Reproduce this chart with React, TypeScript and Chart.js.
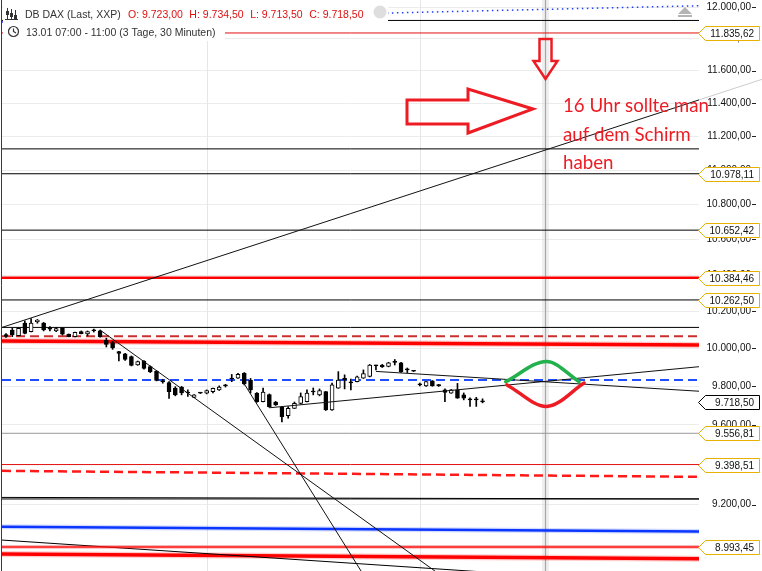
import React, { useEffect, useRef } from 'react';
import { Chart, registerables } from 'chart.js';

Chart.register(...registerables);

// DB DAX (Last, XXP) – 30-minute bars, bar 0 … bar 76 (13.01 11:00)
const opens = [
  10075, 10099, 10068, 10136, 10090, 10144, 10136, 10112, 10094, 10108,
  10076, 10063, 10090, 10078, 10097, 10094, 10043, 10032, 9983, 9971,
  9956, 9912, 9933, 9904, 9878, 9828, 9819, 9790, 9796, 9769,
  9742, 9765, 9764, 9772, 9781, 9804, 9841, 9842, 9868, 9833,
  9764, 9720, 9757, 9718, 9692, 9647, 9685, 9711, 9720, 9773,
  9755, 9772, 9677, 9790, 9841, 9823, 9824, 9842, 9851, 9910,
  9912, 9904, 9928, 9923, 9889, 9881, 9810, 9802, 9828, 9805,
  9781, 9764, 9781, 9755, 9732, 9732, 9723,
];
const highs = [
  10080, 10108, 10110, 10148, 10161, 10156, 10140, 10117, 10113, 10113,
  10078, 10088, 10094, 10094, 10104, 10099, 10055, 10037, 9984, 9974,
  9960, 9933, 9936, 9907, 9882, 9836, 9825, 9798, 9799, 9781,
  9757, 9767, 9781, 9790, 9802, 9810, 9862, 9868, 9872, 9841,
  9767, 9790, 9760, 9721, 9695, 9694, 9718, 9765, 9781, 9791,
  9786, 9773, 9817, 9877, 9860, 9838, 9854, 9886, 9915, 9912,
  9915, 9926, 9941, 9926, 9896, 9882, 9817, 9825, 9830, 9810,
  9786, 9783, 9815, 9765, 9739, 9742, 9734.5,
];
const lows = [
  10059, 10063, 10067, 10078, 10088, 10136, 10094, 10094, 10090, 10072,
  10062, 10062, 10078, 10067, 10088, 10060, 10008, 9995, 9933, 9936,
  9907, 9910, 9890, 9872, 9828, 9816, 9737, 9750, 9755, 9747,
  9741, 9762, 9760, 9765, 9778, 9796, 9824, 9841, 9807, 9765,
  9716, 9718, 9690, 9700, 9615, 9634, 9684, 9708, 9718, 9755,
  9750, 9674, 9674, 9789, 9786, 9781, 9823, 9841, 9849, 9886,
  9899, 9902, 9912, 9873, 9872, 9877, 9802, 9799, 9800, 9799,
  9720, 9763, 9737, 9729, 9695, 9695, 9713.5,
];
const closes = [
  10064, 10072, 10108, 10081, 10136, 10153, 10099, 10104, 10107, 10076,
  10063, 10087, 10079, 10090, 10095, 10063, 10021, 10003, 9974, 9942,
  9910, 9930, 9894, 9875, 9830, 9823, 9772, 9755, 9765, 9765,
  9755, 9764, 9778, 9789, 9796, 9802, 9838, 9862, 9812, 9781,
  9720, 9770, 9694, 9703, 9642, 9685, 9711, 9746, 9764, 9770,
  9778, 9677, 9807, 9833, 9833, 9817, 9849, 9867, 9912, 9907,
  9902, 9923, 9926, 9877, 9886, 9879, 9807, 9824, 9802, 9803,
  9768, 9781, 9738, 9738, 9729, 9729, 9718.5,
];

// session starts and the 16:00 bar
const sessionStarts = [32, 66];
const markerBar = 86;

// visible bar range
const X_MIN = -0.64;
const X_MAX = 110.52;

// price scale
const PRICE_MIN = 8879;
const PRICE_MAX = 12046;
const priceTicks = [
  9000, 9200, 9400, 9600, 9800, 10000, 10200, 10400, 10600, 10800,
  11000, 11200, 11400, 11600, 11800, 12000,
];

// tagged horizontal levels
const levelPrices = [11835.62, 10978.11, 10652.42, 10384.46, 10262.5, 9556.81, 9398.51, 8993.45];
const levelColors = ['#e31010', '#000000', '#000000', '#ff0000', '#000000', '#9a9a9a', '#e31010', '#ff1010'];
const levelWidths = [1, 1, 1, 2.5, 1, 1, 1, 1.5];

// further support / resistance lines: price at left edge, price at right edge
const srLeft = [11915, 11905, 11125, 10113, 10065, 10040, 9833, 9367, 9227.4, 9235, 9092, 9027, 8960];
const srRight = [11915, 12009, 11125, 10113, 10065, 10019, 9833, 9337, 9227.4, 9227.4, 9068, 8807, 8937];
const srColors = ['#000000', '#1f3fff', '#000000', '#000000', '#c9302c', '#ff0000', '#1f4dff', '#ff1a1a', '#000000', '#000000', '#0a36ff', '#000000', '#ff0000'];
const srWidths = [1, 1.5, 1, 1, 2, 3.5, 2, 2.5, 1, 1, 2.5, 1, 3.5];
const srDash: number[][] = [[], [1.5, 3.5], [], [], [9, 5], [], [9, 5], [9, 5], [], [], [], [], []];

// trend lines: start bar / price -> end bar / price
const trendX0 = [X_MIN, 15, 38, 42, 59];
const trendP0 = [10113, 10099, 9812, 9688, 9878];
const trendX1 = [X_MAX, 74.8, 59.5, X_MAX, X_MAX];
const trendP1 = [11420, 8743, 8743, 9903, 9774];

// expected paths towards 16:00
const upPathX = [79.7, 86.2, 91.4];
const upPathP = [9824, 9931, 9824];
const downPathX = [79.9, 86.2, 92.2];
const downPathP = [9807, 9695, 9817];

const lastPrice = 9718.5;
const noteLines = ['16 Uhr sollte man', 'auf dem Schirm', 'haben'];

const fmt = (v: number) => {
  const [i, d] = v.toFixed(2).split('.');
  return i.replace(/\B(?=(\d{3})+(?!\d))/g, '.') + ',' + d;
};

const seg = (x0: number, p0: number, x1: number, p1: number) => [
  { x: x0, y: p0 },
  { x: x1, y: p1 },
];

const AXIS_FONT = '10px "Liberation Sans", Arial, sans-serif';
const HEAD_FONT = '10.5px "Liberation Sans", Arial, sans-serif';

function drawTag(ctx: CanvasRenderingContext2D, yc: number, text: string, color: string) {
  const y0 = Math.round(yc) + 0.5;
  const tip = 698.5;
  const body = 705.5;
  const right = 759.5;
  const h = 7;
  ctx.beginPath();
  ctx.moveTo(tip, y0);
  ctx.lineTo(body, y0 - h);
  ctx.lineTo(right, y0 - h);
  ctx.lineTo(right, y0 + h);
  ctx.lineTo(body, y0 + h);
  ctx.closePath();
  ctx.fillStyle = '#ffffff';
  ctx.fill();
  ctx.lineWidth = 1;
  ctx.strokeStyle = color;
  ctx.stroke();
  ctx.fillStyle = '#111111';
  ctx.font = AXIS_FONT;
  ctx.textAlign = 'right';
  ctx.textBaseline = 'middle';
  ctx.fillText(text, 754, y0 + 0.5);
}

const decorPlugin = {
  id: 'decor',
  beforeDatasetsDraw(chart: any) {
    const { ctx, chartArea, scales } = chart;
    const xs = scales.x;
    ctx.save();
    ctx.strokeStyle = '#e6e6e6';
    ctx.lineWidth = 1;
    sessionStarts.forEach((b) => {
      const px = Math.round(xs.getPixelForValue(b)) + 0.5;
      ctx.beginPath();
      ctx.moveTo(px, chartArea.top);
      ctx.lineTo(px, chartArea.bottom);
      ctx.stroke();
    });
    // 16:00 cursor
    const cx = Math.round(xs.getPixelForValue(markerBar));
    ctx.fillStyle = 'rgba(215,215,215,0.4)';
    ctx.fillRect(cx - 3, 0, 7, chart.height);
    ctx.strokeStyle = '#a6a6a6';
    ctx.lineWidth = 1.2;
    ctx.beginPath();
    ctx.moveTo(cx + 0.5, 0);
    ctx.lineTo(cx + 0.5, chart.height);
    ctx.stroke();
    ctx.restore();
  },
  afterDraw(chart: any) {
    const { ctx, chartArea, scales } = chart;
    const xs = scales.x;
    const ys = scales.y;
    const W = chart.width;
    ctx.save();

    // long up-trend fading out over the price scale
    const ax0 = xs.getPixelForValue(trendX0[0]);
    const ay0 = ys.getPixelForValue(trendP0[0]);
    const ax1 = xs.getPixelForValue(trendX1[0]);
    const ay1 = ys.getPixelForValue(trendP1[0]);
    const k = (ay1 - ay0) / (ax1 - ax0);
    ctx.strokeStyle = 'rgba(110,110,110,0.35)';
    ctx.lineWidth = 1;
    ctx.beginPath();
    ctx.moveTo(chartArea.right, ay0 + k * (chartArea.right - ax0));
    ctx.lineTo(W, ay0 + k * (W - ax0));
    ctx.stroke();

    // tick dashes to the right of the labels
    ctx.strokeStyle = '#222222';
    ctx.lineWidth = 1;
    priceTicks.forEach((v) => {
      const py = Math.round(ys.getPixelForValue(v)) + 0.5;
      ctx.beginPath();
      ctx.moveTo(752, py);
      ctx.lineTo(756, py);
      ctx.stroke();
    });

    // level tags
    levelPrices.forEach((p) => drawTag(ctx, ys.getPixelForValue(p), fmt(p), '#e8b100'));
    drawTag(ctx, ys.getPixelForValue(lastPrice), fmt(lastPrice), '#000000');

    // left frame
    ctx.strokeStyle = '#3a3a3a';
    ctx.lineWidth = 1;
    ctx.beginPath();
    ctx.moveTo(1.5, 0);
    ctx.lineTo(1.5, chart.height);
    ctx.stroke();

    // header
    ctx.fillStyle = '#ffffff';
    ctx.fillRect(3, 0, 385, 21);
    ctx.fillRect(3, 21, 222, 20);

    // bar-chart glyph
    ctx.strokeStyle = '#333333';
    ctx.fillStyle = '#333333';
    ctx.lineWidth = 1;
    [7.5, 11.5, 15.5].forEach((gx, i) => {
      ctx.beginPath();
      ctx.moveTo(gx, 8 + i);
      ctx.lineTo(gx, 19);
      ctx.stroke();
      ctx.fillRect(gx - 1.5, 11 + i * 2, 3, 4);
    });
    ctx.beginPath();
    ctx.moveTo(5, 19.5);
    ctx.lineTo(18, 19.5);
    ctx.stroke();

    ctx.font = HEAD_FONT;
    ctx.textAlign = 'left';
    ctx.textBaseline = 'alphabetic';
    ctx.fillStyle = '#333333';
    ctx.fillText('DB DAX (Last, XXP)', 25, 18);
    const ohlc = [
      'O: ' + fmt(opens[opens.length - 1]),
      'H: ' + fmt(highs[highs.length - 1]),
      'L: ' + fmt(lows[lows.length - 1]),
      'C: ' + fmt(closes[closes.length - 1]),
    ];
    ctx.fillStyle = '#dd1111';
    let tx = 128;
    ohlc.forEach((t) => {
      ctx.fillText(t, tx, 18);
      tx += ctx.measureText(t).width + 6.5;
    });
    // settings button
    ctx.fillStyle = '#dedede';
    ctx.beginPath();
    ctx.arc(380, 12, 6.5, 0, Math.PI * 2);
    ctx.fill();

    // clock
    ctx.strokeStyle = '#333333';
    ctx.lineWidth = 1.2;
    ctx.beginPath();
    ctx.arc(13.5, 31.5, 5, 0, Math.PI * 2);
    ctx.stroke();
    ctx.beginPath();
    ctx.moveTo(13.5, 28.5);
    ctx.lineTo(13.5, 31.5);
    ctx.lineTo(16, 33);
    ctx.stroke();
    ctx.fillStyle = '#333333';
    ctx.fillText('13.01 07:00 - 11:00 (3 Tage, 30 Minuten)', 26, 36);

    // scroll-to-top button
    ctx.fillStyle = '#b4b4b4';
    ctx.beginPath();
    ctx.moveTo(678, 14);
    ctx.lineTo(685, 7);
    ctx.lineTo(692, 14);
    ctx.closePath();
    ctx.fill();
    ctx.fillRect(678, 15, 14, 2);

    // hand-drawn arrows
    const red = '#ed1c24';
    ctx.strokeStyle = red;
    ctx.lineJoin = 'miter';
    ctx.lineWidth = 3;
    ctx.beginPath();
    ctx.moveTo(407, 100);
    ctx.lineTo(468, 100);
    ctx.lineTo(468, 89);
    ctx.lineTo(533, 109);
    ctx.lineTo(468, 133);
    ctx.lineTo(468, 124);
    ctx.lineTo(407, 124);
    ctx.closePath();
    ctx.stroke();

    const mx = Math.round(xs.getPixelForValue(markerBar)) + 0.5;
    ctx.lineWidth = 2.5;
    ctx.beginPath();
    ctx.moveTo(mx - 6, 39);
    ctx.lineTo(mx + 6, 39);
    ctx.lineTo(mx + 6, 61);
    ctx.lineTo(mx + 12, 61);
    ctx.lineTo(mx, 79);
    ctx.lineTo(mx - 12, 61);
    ctx.lineTo(mx - 6, 61);
    ctx.closePath();
    ctx.stroke();

    // note
    ctx.fillStyle = red;
    ctx.font = '18.7px Lato, "Open Sans", sans-serif';
    ctx.textAlign = 'left';
    noteLines.forEach((t, i) => ctx.fillText(t, 563, 112 + i * 28.5));

    ctx.restore();
  },
};

export default function App() {
  const canvasRef = useRef<HTMLCanvasElement | null>(null);

  useEffect(() => {
    if (!canvasRef.current) return;
    const bars = opens.map((_, i) => i);
    const lineDs = (data: any[], color: string, width: number, dash: number[] = []) => ({
      type: 'line' as const,
      data,
      borderColor: color,
      borderWidth: width,
      borderDash: dash,
      pointRadius: 0,
      fill: false,
      tension: 0,
    });

    const datasets: any[] = [
      {
        ...lineDs(downPathX.map((x, i) => ({ x, y: downPathP[i] })), '#ed1c24', 3.5),
        cubicInterpolationMode: 'monotone',
        borderCapStyle: 'round',
      },
      {
        ...lineDs(upPathX.map((x, i) => ({ x, y: upPathP[i] })), '#22b14c', 3.5),
        cubicInterpolationMode: 'monotone',
        borderCapStyle: 'round',
      },
      ...trendX0.slice(1).map((_, j) =>
        lineDs(seg(trendX0[j + 1], trendP0[j + 1], trendX1[j + 1], trendP1[j + 1]), '#111111', 1)
      ),
      lineDs(seg(trendX0[0], trendP0[0], trendX1[0], trendP1[0]), '#111111', 1),
      {
        type: 'bar',
        data: bars.map((i) => ({ x: i, y: [opens[i], closes[i]] })),
        backgroundColor: bars.map((i) => (closes[i] >= opens[i] ? '#ffffff' : '#000000')),
        borderColor: '#000000',
        borderWidth: 1,
        borderSkipped: false,
        barThickness: 4,
        minBarLength: 1,
        grouped: false,
      },
      {
        type: 'bar',
        data: bars.map((i) => ({ x: i, y: [lows[i], highs[i]] })),
        backgroundColor: '#000000',
        borderWidth: 0,
        barThickness: 1,
        grouped: false,
      },
      ...levelPrices.map((p, i) => lineDs(seg(X_MIN, p, X_MAX, p), levelColors[i], levelWidths[i])),
      lineDs(seg(X_MIN, levelPrices[7], X_MAX, levelPrices[7]), 'rgba(255,0,0,0.22)', 4),
      ...srLeft.map((p, i) => lineDs(seg(X_MIN, p, X_MAX, srRight[i]), srColors[i], srWidths[i], srDash[i])),
      lineDs(seg(X_MIN, srLeft[5], X_MAX, srRight[5]), 'rgba(255,0,0,0.2)', 6),
      lineDs(seg(X_MIN, srLeft[12], X_MAX, srRight[12]), 'rgba(255,0,0,0.2)', 6),
      lineDs(seg(X_MIN, srLeft[10], X_MAX, srRight[10]), 'rgba(10,54,255,0.18)', 5),
    ];

    const chart = new Chart(canvasRef.current, {
      type: 'bar',
      data: { datasets },
      plugins: [decorPlugin],
      options: {
        animation: false,
        responsive: true,
        maintainAspectRatio: false,
        devicePixelRatio: 1,
        events: [],
        layout: { padding: { left: 2, right: 11, top: 0, bottom: 0 } },
        plugins: { legend: { display: false }, tooltip: { enabled: false } },
        scales: {
          x: { type: 'linear', min: X_MIN, max: X_MAX, display: false, offset: false },
          y: {
            type: 'logarithmic',
            position: 'right',
            min: PRICE_MIN,
            max: PRICE_MAX,
            afterBuildTicks: (s: any) => {
              s.ticks = priceTicks.map((v) => ({ value: v }));
            },
            afterFit: (s: any) => {
              s.width = 52;
              s.paddingTop = 0;
              s.paddingBottom = 0;
            },
            grid: { color: '#ececec', drawTicks: false },
            border: { display: false },
            ticks: {
              autoSkip: false,
              crossAlign: 'far',
              padding: 0,
              color: '#111111',
              font: { family: '"Liberation Sans", Arial, sans-serif', size: 10 },
              callback: (v: any) => fmt(Number(v)),
            },
          },
        },
      } as any,
    });
    return () => chart.destroy();
  }, []);

  return (
    <div style={{ position: 'fixed', left: 0, top: 0, width: 762, height: 571, background: '#ffffff' }}>
      <canvas ref={canvasRef} />
    </div>
  );
}
